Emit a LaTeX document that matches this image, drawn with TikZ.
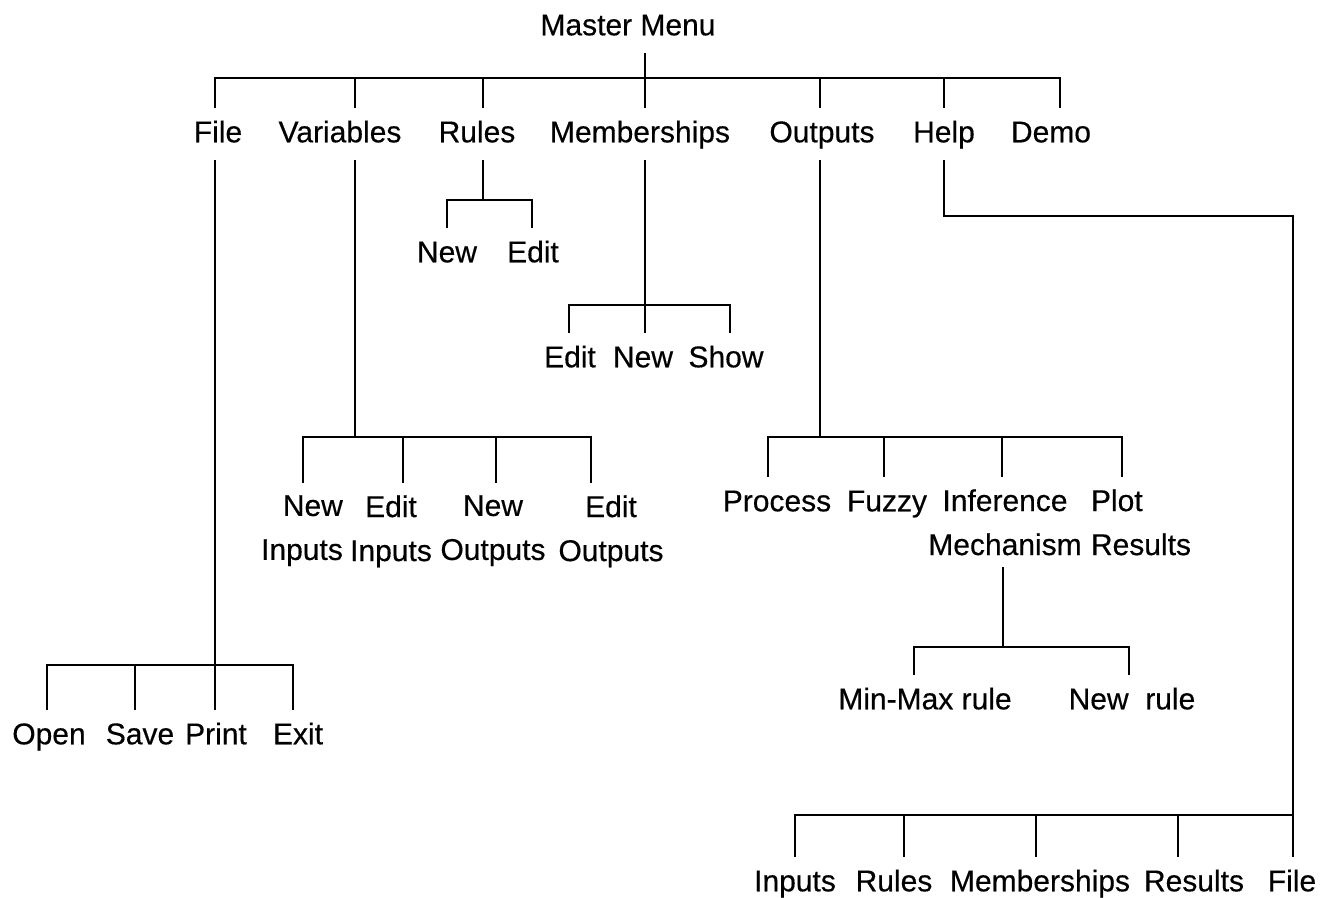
\documentclass[tikz,border=0pt]{standalone}
\usepackage{fontspec}
\setmainfont[FakeBold=0.4]{Liberation Sans}
\newcommand{\menufont}{\fontsize{15}{22}\selectfont}

\begin{document}
\begin{tikzpicture}[x=0.5pt, y=-0.5pt, line width=1.3pt, line cap=rect,
    menu/.style={font=\menufont, inner xsep=1pt, inner ysep=6pt,
        text height=11pt, text depth=3pt, anchor=north},
    menutwo/.style={font=\menufont, inner xsep=1pt, inner ysep=6pt,
        anchor=north, align=center}]
    \useasboundingbox (0,0) rectangle (1330,898);

    % master menu and first level
    \node[menu] (mm) at (628,0) {Master Menu};
    \foreach \n/\t/\x in {file/File/218, var/Variables/340, rules/Rules/477,
        memb/Memberships/640, outs/Outputs/822, help/Help/944, demo/Demo/1051}
        \node[menu] (\n) at (\x,107) {\t};

    \coordinate (top) at (645,78);
    \draw (mm.south -| top) -- (top);
    \draw (top -| 215,0) -- (top -| 1060,0);
    \foreach \n/\x in {file/215, var/355, rules/483, memb/645, outs/820,
        help/944, demo/1060}
        \draw (top -| \x,0) -- (\n.north -| \x,0);

    % file
    \coordinate (fb) at (215,665);
    \draw (file.south -| fb) -- (fb);
    \draw (fb -| 47,0) -- (fb -| 293,0);
    \foreach \n/\t/\xt/\xl in {open/Open/47/49, save/Save/135/140,
        print/Print/215/216, exit/Exit/293/298} {
        \node[menu] (\n) at (\xl,709) {\t};
        \draw (fb -| \xt,0) -- (\n.north -| \xt,0);
    }

    % variables
    \coordinate (vb) at (355,437);
    \draw (var.south -| vb) -- (vb);
    \draw (vb -| 303,0) -- (vb -| 591,0);
    \node[menutwo, align=right] (vni) at (302,482) {New\\Inputs};
    \node[menutwo] (vei) at (391,482) {Edit\\Inputs};
    \node[menutwo] (vno) at (493,482) {New\\Outputs};
    \node[menutwo] (veo) at (611,482) {Edit\\Outputs};
    \foreach \n/\x in {vni/303, vei/403, vno/496, veo/591}
        \draw (vb -| \x,0) -- (\n.north -| \x,0);

    % rules
    \coordinate (rb) at (483,200);
    \draw (rules.south -| rb) -- (rb);
    \draw (rb -| 447,0) -- (rb -| 532,0);
    \node[menu] (rnew) at (447,227) {New};
    \node[menu] (redit) at (533,227) {Edit};
    \foreach \n/\x in {rnew/447, redit/532}
        \draw (rb -| \x,0) -- (\n.north -| \x,0);

    % memberships
    \coordinate (mb) at (645,305);
    \draw (memb.south -| mb) -- (mb);
    \draw (mb -| 569,0) -- (mb -| 730,0);
    \foreach \n/\t/\xt/\xl in {medit/Edit/569/570, mnew/New/645/643,
        mshow/Show/730/726} {
        \node[menu] (\n) at (\xl,332) {\t};
        \draw (mb -| \xt,0) -- (\n.north -| \xt,0);
    }

    % outputs
    \coordinate (ob) at (820,437);
    \draw (outs.south -| ob) -- (ob);
    \draw (ob -| 768,0) -- (ob -| 1122,0);
    \node[menu] (proc) at (777,476) {Process};
    \node[menu] (fuzzy) at (887,476) {Fuzzy};
    \node[menutwo] (infer) at (1005,476) {Inference\\Mechanism};
    \node[menutwo, align=left] (plot) at (1141,476) {Plot\\Results};
    \foreach \n/\x in {proc/768, fuzzy/884, infer/1002, plot/1122}
        \draw (ob -| \x,0) -- (\n.north -| \x,0);

    % inference mechanism
    \coordinate (ib) at (1003,647);
    \draw (infer.south -| ib) -- (ib);
    \draw (ib -| 914,0) -- (ib -| 1129,0);
    \node[menu] (minmax) at (925,674) {Min-Max rule};
    \node[menu] (newrule) at (1132,674) {New~~rule};
    \foreach \n/\x in {minmax/914, newrule/1129}
        \draw (ib -| \x,0) -- (\n.north -| \x,0);

    % help
    \coordinate (hr) at (1293,216);
    \coordinate (hb) at (1293,815);
    \draw (help.south) |- (hr) -- (hb);
    \draw (hb -| 795,0) -- (hb);
    \foreach \n/\t/\xt/\xl in {hin/Inputs/795/795, hru/Rules/904/894,
        hme/Memberships/1036/1040, hre/Results/1178/1194, hfi/File/1293/1292} {
        \node[menu] (\n) at (\xl,856) {\t};
        \draw (hb -| \xt,0) -- (\n.north -| \xt,0);
    }
\end{tikzpicture}
\end{document}
